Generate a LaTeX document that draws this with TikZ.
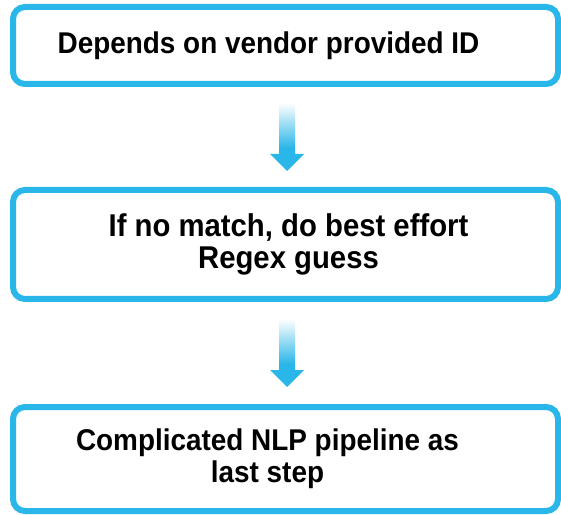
\documentclass[tikz,border=0pt]{standalone}
\usepackage{fontspec}
\setmainfont[FakeStretch=0.93]{Liberation Sans}
\usetikzlibrary{calc,positioning}

\definecolor{stepblue}{RGB}{41,182,232}
\pgfdeclareverticalshading{arrowfade}{100bp}{color(0bp)=(stepblue); color(42bp)=(stepblue); color(75bp)=(white); color(100bp)=(white)}

\begin{document}
\begin{tikzpicture}[x=1pt,y=1pt,
  stepbox/.style={draw=stepblue, line width=6pt, rounded corners=12pt,
    minimum width=545pt, inner sep=0pt},
  steptext/.style={align=center, inner sep=0pt,
    font=\fontsize{30}{32}\selectfont\bfseries},
  fadearrow/.style={shading=arrowfade}]

  \useasboundingbox (0,0) rectangle (561,514);

  % the three steps
  \node[stepbox, minimum height=77pt,
    label={[steptext, xshift=-17pt]center:Depends on vendor provided ID}] (vendor) at (285.5,468.5) {};
  \node[stepbox, minimum height=109pt,
    label={[steptext, xshift=3pt, font=\fontsize{31.5}{32}\selectfont\bfseries]center:If no match, do best effort\\Regex guess}] (regex) at (285.5,269.5) {};
  \node[stepbox, minimum height=104pt,
    label={[steptext, xshift=-18pt]center:Complicated NLP pipeline as\\last step}] (nlp) at (285.5,55) {};

  % faded block arrows between them
  \foreach \from/\to in {vendor/regex, regex/nlp}
    \shade[fadearrow] ($(\from.south)!0.5!(\to.north)+(-6.5,34)$) -- ++(16,0) -- ++(0,-51)
      -- ++(9,0) -- ++(-17,-17) -- ++(-17,17) -- ++(9,0) -- cycle;

\end{tikzpicture}
\end{document}
